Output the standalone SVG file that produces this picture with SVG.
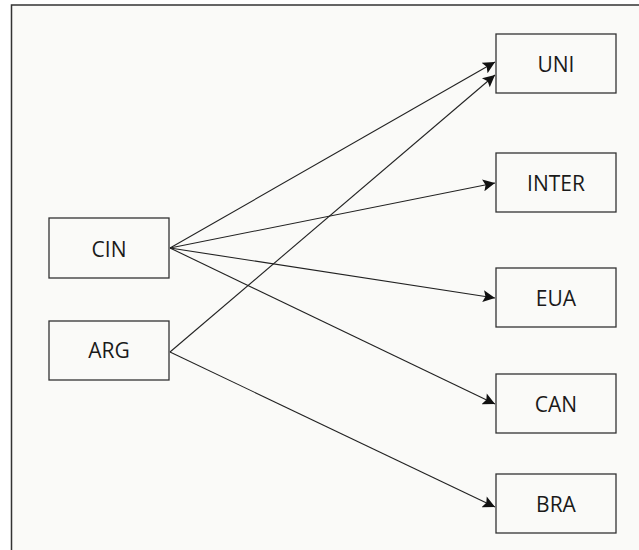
<svg xmlns="http://www.w3.org/2000/svg" width="639" height="550" viewBox="0 0 639 550">
<style>
.box{fill:none;stroke:#333;stroke-width:1.3}
.lbl{font-family:"Open Sans","Liberation Sans",sans-serif;font-size:21px;fill:#1a1a1a;text-anchor:middle}
.edge{stroke:#222;stroke-width:1.1;fill:none;marker-end:url(#arr)}
</style>
<defs>
<marker id="arr" viewBox="0 0 10 10" refX="10" refY="5" markerWidth="17" markerHeight="12" markerUnits="userSpaceOnUse" orient="auto">
<path d="M0,0 L10,5 L0,10 L2,5 Z" fill="#111"/>
</marker>
</defs>
<rect width="639" height="550" fill="#fff"/>
<rect x="11.5" y="5" width="640" height="560" fill="#fafaf8" stroke="#333" stroke-width="1.5"/>
<g id="connectors">
<line class="edge" x1="170" y1="248" x2="495" y2="62"/>
<line class="edge" x1="170" y1="248" x2="495" y2="183"/>
<line class="edge" x1="170" y1="248" x2="495" y2="298"/>
<line class="edge" x1="170" y1="248" x2="495" y2="404"/>
<line class="edge" x1="170" y1="352" x2="495" y2="75"/>
<line class="edge" x1="170" y1="352" x2="495" y2="507"/>
</g>
<g id="CIN"><rect class="box" x="49" y="218" width="120" height="60"/><text class="lbl" x="109" y="257">CIN</text></g>
<g id="ARG"><rect class="box" x="49" y="321" width="120" height="59"/><text class="lbl" x="109" y="358">ARG</text></g>
<g id="UNI"><rect class="box" x="496" y="34" width="120" height="59"/><text class="lbl" x="556" y="72">UNI</text></g>
<g id="INTER"><rect class="box" x="496" y="153" width="120" height="59"/><text class="lbl" x="556" y="191">INTER</text></g>
<g id="EUA"><rect class="box" x="496" y="268" width="120" height="59"/><text class="lbl" x="556" y="306">EUA</text></g>
<g id="CAN"><rect class="box" x="496" y="374" width="120" height="59"/><text class="lbl" x="556" y="412">CAN</text></g>
<g id="BRA"><rect class="box" x="496" y="474" width="120" height="59"/><text class="lbl" x="556" y="512">BRA</text></g>
</svg>
